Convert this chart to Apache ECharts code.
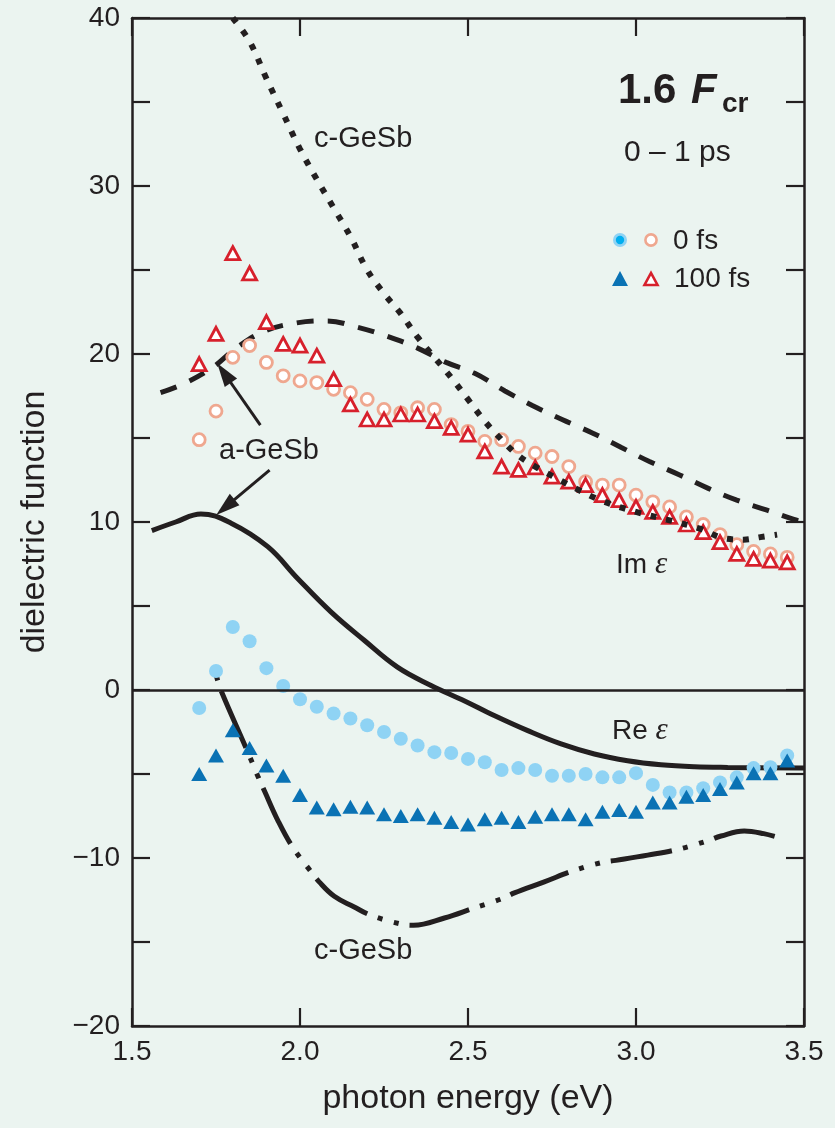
<!DOCTYPE html>
<html><head><meta charset="utf-8">
<script src="https://cdn.jsdelivr.net/npm/echarts@6/dist/echarts.min.js"></script>
<style>html,body{margin:0;padding:0;background:#ebf4f0}#c{width:835px;height:1128px}</style>
</head><body><div id="c"></div>
<script>
// ---- data ----
const energies = [1.70,1.75,1.80,1.85,1.90,1.95,2.00,2.05,2.10,2.15,2.20,2.25,2.30,2.35,2.40,2.45,2.50,2.55,2.60,2.65,2.70,2.75,2.80,2.85,2.90,2.95,3.00,3.05,3.10,3.15,3.20,3.25,3.30,3.35,3.40,3.45];
const im0fs   = [14.9,16.6,19.8,20.5,19.5,18.7,18.4,18.3,17.9,17.7,17.3,16.7,16.5,16.8,16.7,15.8,15.4,14.8,14.9,14.5,14.1,13.9,13.3,12.4,12.2,12.2,11.6,11.2,10.9,10.3,9.85,9.25,8.65,8.25,8.1,7.9];
const im100fs = [19.4,21.2,26.0,24.8,21.9,20.6,20.5,19.9,18.5,17.0,16.1,16.1,16.4,16.4,16.0,15.6,15.2,14.2,13.3,13.1,13.25,12.7,12.4,12.2,11.6,11.3,10.9,10.6,10.3,9.85,9.4,8.8,8.1,7.8,7.7,7.6];
const re0fs   = [-1.07,1.13,3.75,2.9,1.3,0.24,-0.55,-1.0,-1.4,-1.7,-2.1,-2.5,-2.9,-3.3,-3.7,-3.75,-4.1,-4.3,-4.76,-4.65,-4.76,-5.1,-5.1,-5.0,-5.2,-5.2,-4.95,-5.65,-6.1,-6.1,-5.85,-5.5,-5.2,-4.65,-4.6,-3.9];
const re100fs = [-5.0,-3.9,-2.4,-3.45,-4.5,-5.1,-6.25,-7.0,-7.1,-6.95,-7.0,-7.4,-7.5,-7.4,-7.6,-7.85,-8.0,-7.7,-7.6,-7.85,-7.55,-7.4,-7.4,-7.7,-7.25,-7.15,-7.25,-6.7,-6.7,-6.35,-6.25,-5.9,-5.5,-4.95,-4.95,-4.2];

// reference curves [energy, epsilon]
const cGeSbIm = [[1.80,40],[1.85,38.6],[1.90,36.4],[1.95,34.3],[2.00,32.2],[2.05,30.4],[2.10,28.7],[2.15,27.0],[2.20,25.0],[2.25,23.6],[2.30,22.4],[2.35,21.0],[2.40,19.8],[2.45,18.6],[2.50,17.3],[2.55,16.0],[2.60,14.9],[2.65,13.95],[2.70,13.3],[2.75,12.75],[2.82,12.0],[2.90,11.25],[3.00,10.6],[3.10,10.1],[3.19,9.6],[3.27,9.0],[3.32,8.95],[3.37,9.1],[3.42,9.25]];
const aGeSbIm = [[1.585,17.7],[1.656,18.25],[1.74,19.2],[1.81,20.35],[1.894,21.35],[1.99,21.85],[2.08,21.97],[2.17,21.6],[2.26,21.05],[2.35,20.35],[2.435,19.5],[2.52,18.85],[2.61,17.8],[2.69,16.95],[2.78,16.1],[2.87,15.3],[2.955,14.45],[3.04,13.6],[3.13,12.8],[3.215,12.0],[3.30,11.3],[3.39,10.7],[3.47,10.15],[3.5,10.0]];
const aGeSbRe = [[1.559,9.49],[1.63,10.0],[1.705,10.48],[1.795,9.93],[1.904,8.53],[1.993,6.64],[2.092,4.65],[2.191,2.96],[2.29,1.36],[2.39,0.27],[2.49,-0.65],[2.578,-1.52],[2.678,-2.42],[2.777,-3.21],[2.876,-3.81],[2.975,-4.21],[3.074,-4.45],[3.174,-4.57],[3.273,-4.61],[3.5,-4.65]];
const cGeSbRe = [[1.751,0.85],[1.765,-0.03],[1.842,-3.57],[1.876,-5.2],[1.894,-6.0],[1.935,-7.8],[1.978,-9.35],[2.03,-10.74],[2.057,-11.42],[2.102,-12.28],[2.16,-12.9],[2.211,-13.41],[2.30,-13.93],[2.338,-14.0],[2.43,-13.57],[2.519,-12.97],[2.603,-12.41],[2.638,-12.08],[2.727,-11.42],[2.816,-10.74],[2.90,-10.26],[2.94,-10.14],[3.035,-9.83],[3.124,-9.49],[3.211,-8.99],[3.253,-8.69],[3.322,-8.39],[3.38,-8.55],[3.432,-8.83]];

// annotation arrows (tail, head) in data coordinates
const arrowUp   = [[1.882,15.77],[1.774,18.87]];
const arrowDown = [[1.9095,13.09],[1.778,10.88]];

const xTickLabels = ['1.5','2.0','2.5','3.0','3.5'];
const yTickLabels = ['\u221220','\u221210','0','10','20','30','40'];

// ---- chart ----
const INK = '#231f20';
const FONT = "'Liberation Sans', Arial, Helvetica, sans-serif";
const pairs = (xs, ys) => xs.map((x, i) => [x, ys[i]]);
const chart = echarts.init(document.getElementById('c'), null, {renderer: 'canvas'});

const axisLine = {onZero: false, lineStyle: {color: INK, width: 2.5}};
const axisTick = {inside: true, length: 18, lineStyle: {color: INK, width: 2.2}};

const option = {
  backgroundColor: '#ebf4f0',
  animation: false,
  grid: {left: 132, right: 31, top: 18, bottom: 102, show: false},
  xAxis: [
    {type: 'value', min: 1.5, max: 3.5, interval: 0.5, position: 'bottom',
     axisLine, axisTick, splitLine: {show: false},
     axisLabel: {formatter: v => xTickLabels[Math.round((v - 1.5) / 0.5)] || '', fontSize: 28, color: INK, fontFamily: FONT, margin: 12},
     name: 'photon energy (eV)', nameLocation: 'middle', nameGap: 56,
     nameTextStyle: {fontSize: 34, color: INK, fontFamily: FONT}},
    {type: 'value', min: 1.5, max: 3.5, interval: 0.5, position: 'top',
     axisLine, axisTick, splitLine: {show: false}, axisLabel: {show: false}}
  ],
  yAxis: [
    {type: 'value', min: -20, max: 40, interval: 5, position: 'left',
     axisLine, axisTick, splitLine: {show: false},
     axisLabel: {formatter: v => (v % 10 === 0 ? yTickLabels[(v + 20) / 10] : ''), fontSize: 28, color: INK, fontFamily: FONT, margin: 12},
     name: 'dielectric function', nameLocation: 'middle', nameGap: 80,
     nameTextStyle: {fontSize: 34, color: INK, fontFamily: FONT}},
    {type: 'value', min: -20, max: 40, interval: 5, position: 'right',
     axisLine, axisTick, splitLine: {show: false}, axisLabel: {show: false}}
  ],
  series: [
    {name: 'a-GeSb Re', type: 'line', data: aGeSbRe, smooth: 0.4, showSymbol: false, symbol: 'none', z: 2,
     lineStyle: {color: INK, width: 5},
     markLine: {silent: true, symbol: ['none', 'none'], label: {show: false},
       lineStyle: {color: INK, width: 2.5, type: 'solid'},
       data: [{yAxis: 0}]}},
    {name: 'a-GeSb Im', type: 'line', data: aGeSbIm, smooth: 0.4, showSymbol: false, symbol: 'none', z: 2,
     lineStyle: {color: INK, width: 5, type: [17, 14], cap: 'butt'},
     markLine: {silent: true, symbol: ['none', 'triangle'], symbolSize: [15, 24], label: {show: false},
       lineStyle: {color: INK, width: 3, type: 'solid'},
       data: [
         [{coord: arrowUp[0]}, {coord: arrowUp[1]}],
         [{coord: arrowDown[0]}, {coord: arrowDown[1]}]
       ]}},
    {name: 'c-GeSb Re', type: 'line', data: cGeSbRe, smooth: 0.4, showSymbol: false, symbol: 'none', z: 2,
     lineStyle: {color: INK, width: 5, type: [62, 11, 5, 12, 5, 11], dashOffset: 90, cap: 'butt'}},
    {name: '0 fs Re', type: 'scatter', data: pairs(energies, re0fs), symbol: 'circle', symbolSize: 14, z: 3,
     itemStyle: {color: '#8fd3f4', opacity: 1}},
    {name: '100 fs Re', type: 'scatter', data: pairs(energies, re100fs), symbol: 'triangle', symbolSize: [16, 14], z: 3,
     itemStyle: {color: '#0a72b4', opacity: 1}},
    {name: '0 fs Im', type: 'scatter', data: pairs(energies, im0fs), symbol: 'circle', symbolSize: 12, z: 3,
     itemStyle: {color: '#ffffff', borderColor: '#efa78f', borderWidth: 2.8, opacity: 1}},
    {name: '100 fs Im', type: 'scatter', data: pairs(energies, im100fs), symbol: 'triangle', symbolSize: [14, 13], z: 3,
     itemStyle: {color: '#ffffff', borderColor: '#d7202c', borderWidth: 2.8, opacity: 1}},
    {name: 'c-GeSb Im', type: 'line', data: cGeSbIm, smooth: 0.4, showSymbol: false, symbol: 'none', z: 4,
     lineStyle: {color: INK, width: 6, type: [6, 10], cap: 'butt'}}
  ],
  graphic: [
    {type: 'text', z: 10, style: {x: 618, y: 91, text: '1.6', font: "bold 42px " + FONT, fill: INK, verticalAlign: 'middle'}},
    {type: 'text', z: 10, style: {x: 691, y: 91, text: 'F', font: "italic bold 42px " + FONT, fill: INK, verticalAlign: 'middle'}},
    {type: 'text', z: 10, style: {x: 722, y: 104, text: 'cr', font: "bold 28px " + FONT, fill: INK, verticalAlign: 'middle'}},
    {type: 'text', z: 10, style: {x: 624, y: 153, text: '0 \u2013 1 ps', font: "30px " + FONT, fill: INK, verticalAlign: 'middle'}},
    {type: 'circle', z: 10, shape: {cx: 620, cy: 240, r: 7}, style: {fill: '#8fd3f4'}},
    {type: 'circle', z: 11, shape: {cx: 620, cy: 240, r: 4.2}, style: {fill: '#00aeef'}},
    {type: 'circle', z: 10, shape: {cx: 651, cy: 240, r: 5.6}, style: {fill: '#ffffff', stroke: '#efa78f', lineWidth: 2.6}},
    {type: 'polygon', z: 10, shape: {points: [[612, 286], [628, 286], [620, 271]]}, style: {fill: '#0a72b4'}},
    {type: 'polygon', z: 10, shape: {points: [[644.5, 285], [657.5, 285], [651, 273]]}, style: {fill: '#ffffff', stroke: '#d7202c', lineWidth: 2.6}},
    {type: 'text', z: 10, style: {x: 673, y: 241, text: '0 fs', font: "28px " + FONT, fill: INK, verticalAlign: 'middle'}},
    {type: 'text', z: 10, style: {x: 674, y: 279, text: '100 fs', font: "28px " + FONT, fill: INK, verticalAlign: 'middle'}},
    {type: 'text', z: 10, style: {x: 314, y: 139, text: 'c-GeSb', font: "29px " + FONT, fill: INK, verticalAlign: 'middle'}},
    {type: 'text', z: 10, style: {x: 219, y: 451, text: 'a-GeSb', font: "29px " + FONT, fill: INK, verticalAlign: 'middle'}},
    {type: 'text', z: 10, style: {x: 314, y: 951, text: 'c-GeSb', font: "29px " + FONT, fill: INK, verticalAlign: 'middle'}},
    {type: 'text', z: 10, style: {x: 616, y: 565, text: '{n|Im }{e|\u03b5}', fill: INK, verticalAlign: 'middle',
      rich: {n: {fontSize: 28, fontFamily: FONT, color: INK}, e: {fontSize: 31, fontFamily: "'Liberation Serif', 'Times New Roman', serif", fontStyle: 'italic', color: INK}}}},
    {type: 'text', z: 10, style: {x: 612, y: 731, text: '{n|Re }{e|\u03b5}', fill: INK, verticalAlign: 'middle',
      rich: {n: {fontSize: 28, fontFamily: FONT, color: INK}, e: {fontSize: 31, fontFamily: "'Liberation Serif', 'Times New Roman', serif", fontStyle: 'italic', color: INK}}}}
  ]
};
chart.setOption(option);
</script>
</body></html>
